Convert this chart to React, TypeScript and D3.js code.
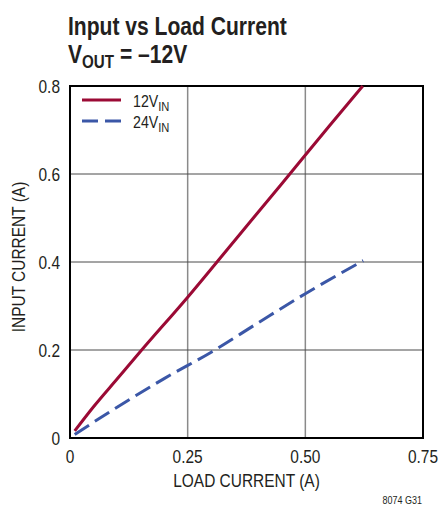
import React, {useEffect, useRef} from "react";
import * as d3 from "d3";

// 12V input curve
const load12 = [0.01, 0.05, 0.1, 0.15, 0.25, 0.35, 0.45, 0.55, 0.622];
const input12 = [0.016, 0.071, 0.134, 0.197, 0.32, 0.449, 0.578, 0.708, 0.8];
// 24V input curve
const load24 = [0.01, 0.1, 0.2, 0.3, 0.4, 0.5, 0.623];
const input24 = [0.008, 0.07, 0.135, 0.195, 0.262, 0.328, 0.403];

const xTicks = [0, 0.25, 0.5, 0.75];
const xTickLabels = ["0", "0.25", "0.50", "0.75"];
const yTicks = [0, 0.2, 0.4, 0.6, 0.8];
const yTickLabels = ["0", "0.2", "0.4", "0.6", "0.8"];

const FONT = "'Liberation Sans', Arial, sans-serif";
const INK = "#231f20";
const SX = 0.86; // squeeze Liberation Sans into a condensed look

export default function App() {
    const svgRef = useRef<SVGSVGElement | null>(null);

    useEffect(() => {
        if (!svgRef.current) return;
        const svg = d3.select(svgRef.current);
        svg.selectAll("*").remove();

        const left = 70, right = 423, top = 86, bottom = 438;
        const x = d3.scaleLinear().domain([0, 0.75]).range([left, right]);
        const y = d3.scaleLinear().domain([0, 0.8]).range([bottom, top]);

        // condensed text helper
        const label = (px: number, py: number, txt: string, size: number, anchor = "start", rot = 0, sx = SX) => {
            const g = svg.append("g")
                .attr("transform", `translate(${px},${py}) rotate(${rot}) scale(${sx},1)`);
            return g.append("text")
                .attr("text-anchor", anchor)
                .attr("font-family", FONT).attr("font-size", size).attr("fill", INK)
                .text(txt);
        };

        // title, scaled to the reference width
        const tg1 = svg.append("g");
        const t1 = tg1.append("text")
            .attr("font-family", FONT).attr("font-weight", "bold").attr("font-size", 25)
            .attr("fill", INK)
            .text("Input vs Load Current");
        const w1 = (t1.node() as SVGTextElement).getComputedTextLength();
        const tsx = 219 / w1;
        tg1.attr("transform", `translate(68,35) scale(${tsx},1)`);
        const tg2 = svg.append("g").attr("transform", `translate(68,63) scale(${tsx},1)`);
        const t2 = tg2.append("text")
            .attr("font-family", FONT).attr("font-weight", "bold").attr("font-size", 25)
            .attr("fill", INK);
        t2.append("tspan").text("V");
        t2.append("tspan").attr("font-size", 18).attr("dy", 5).text("OUT");
        t2.append("tspan").attr("dy", -5).text(" = \u201312V");

        // grid
        const grid = svg.append("g");
        grid.selectAll("line.v")
            .data(xTicks.slice(1, -1))
            .enter().append("line")
            .attr("x1", (d) => x(d)).attr("x2", (d) => x(d))
            .attr("y1", top).attr("y2", bottom)
            .attr("stroke", "#8a8a8a").attr("stroke-width", 1.5);
        grid.selectAll("line.h")
            .data(yTicks.slice(1, -1))
            .enter().append("line")
            .attr("x1", left).attr("x2", right)
            .attr("y1", (d) => y(d)).attr("y2", (d) => y(d))
            .attr("stroke", "#4a4a4a").attr("stroke-width", 1);

        // frame
        svg.append("rect")
            .attr("x", left).attr("y", top)
            .attr("width", right - left).attr("height", bottom - top)
            .attr("fill", "none").attr("stroke", "#000").attr("stroke-width", 2);

        // tick labels
        yTicks.forEach((d, i) => label(60, y(d) + 6.5, yTickLabels[i], 18, "end"));
        xTicks.forEach((d, i) => label(x(d), 463, xTickLabels[i], 18, "middle"));

        // axis titles
        label((left + right) / 2, 487, "LOAD CURRENT (A)", 18, "middle");
        label(25, 257, "INPUT CURRENT (A)", 18, "middle", -90);
        label(422, 504, "8074 G31", 10, "end", 0, 0.9);

        // curves
        const line = d3.line<[number, number]>()
            .x((d) => x(d[0]))
            .y((d) => y(d[1]))
            .curve(d3.curveMonotoneX);
        svg.append("path")
            .datum(load12.map((v, i) => [v, input12[i]] as [number, number]))
            .attr("d", line)
            .attr("fill", "none").attr("stroke", "#9b0a35").attr("stroke-width", 3);
        svg.append("path")
            .datum(load24.map((v, i) => [v, input24[i]] as [number, number]))
            .attr("d", line)
            .attr("fill", "none").attr("stroke", "#3b57a7").attr("stroke-width", 3)
            .attr("stroke-dasharray", "17 7");

        // legend
        const legend = svg.append("g");
        legend.append("line")
            .attr("x1", 82).attr("x2", 121).attr("y1", 100).attr("y2", 100)
            .attr("stroke", "#9b0a35").attr("stroke-width", 3);
        legend.append("line")
            .attr("x1", 82).attr("x2", 121).attr("y1", 121).attr("y2", 121)
            .attr("stroke", "#3b57a7").attr("stroke-width", 3)
            .attr("stroke-dasharray", "16 7");
        ["12V", "24V"].forEach((lab, i) => {
            const t = label(133, 107 + i * 21, "", 16.5);
            t.append("tspan").text(lab);
            t.append("tspan").attr("font-size", 13).attr("dy", 4).text("IN");
        });
    }, []);

    return (
        <svg ref={svgRef} width={440} height={506}
             style={{position: "absolute", left: 0, top: 0, background: "#fff"}}/>
    );
}
